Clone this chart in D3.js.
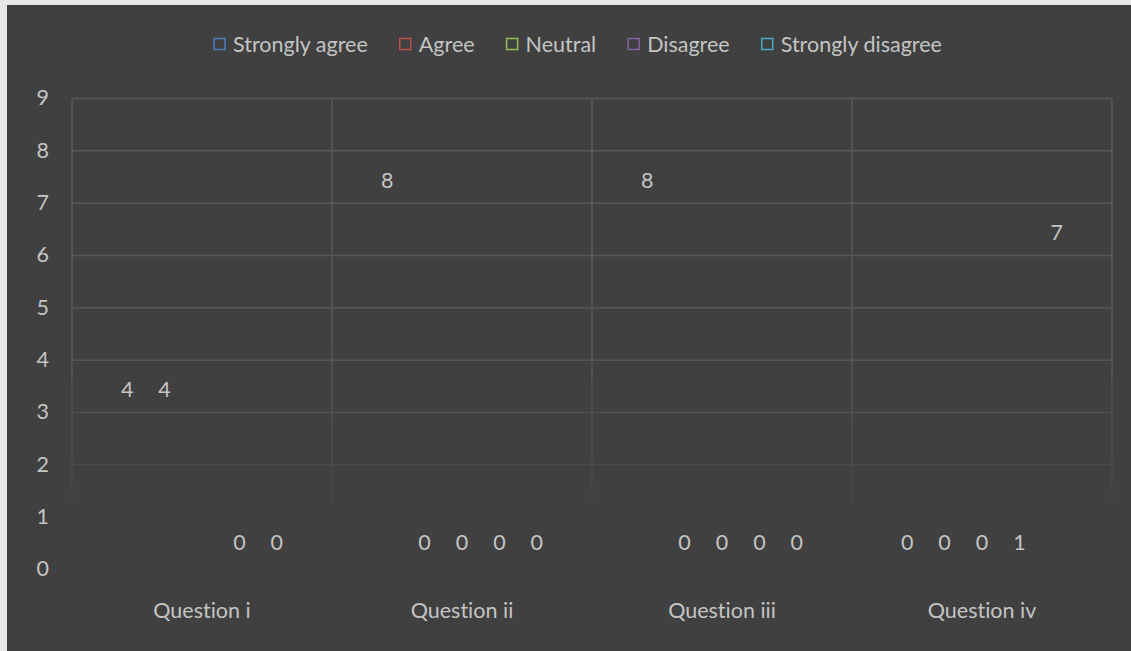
<!DOCTYPE html>
<html>
<head>
<meta charset="utf-8">
<script src="https://cdn.jsdelivr.net/npm/d3@7"></script>
<style>
  html, body { margin: 0; padding: 0; background: #e6e6e6; }
  svg { display: block; }
  text { font-family: Lato, "Open Sans", sans-serif; font-variant-ligatures: none; }
</style>
</head>
<body>
<svg id="chart" width="1131" height="651"></svg>
<script>
// ---- data ----
const categories = ["Question i", "Question ii", "Question iii", "Question iv"];
const seriesNames = ["Strongly agree", "Agree", "Neutral", "Disagree", "Strongly disagree"];
const seriesColors = ["#4a7fc1", "#c0504d", "#9bbb59", "#8064a2", "#4bacc6"];
const stronglyAgree    = [4, 8, 8, 0];
const agree            = [4, 0, 0, 0];
const neutral          = [null, 0, 0, 0];
const disagree         = [0, 0, 0, 1];
const stronglyDisagree = [0, 0, 0, 7];
const yTicks = [0, 1, 2, 3, 4, 5, 6, 7, 8, 9];

const seriesValues = [stronglyAgree, agree, neutral, disagree, stronglyDisagree];

const W = 1131, H = 651;
const svg = d3.select("#chart");
const FS = "21.5px";

// chart background with light frame on top/left
svg.append("rect").attr("x", 0).attr("y", 0).attr("width", W).attr("height", H).attr("fill", "#e8e8e8");
svg.append("rect").attr("x", 7).attr("y", 5).attr("width", W - 7).attr("height", H - 5).attr("fill", "#404040");

const plot = { left: 72, right: 1112, top: 98, bottom: 569 };

const y = d3.scaleLinear().domain([0, 9]).range([plot.bottom, plot.top]);
const x0 = d3.scaleBand().domain(categories).range([plot.left, plot.right]).padding(0);
const x1 = d3.scaleBand().domain(seriesNames).range([0, x0.bandwidth()]).paddingInner(0).paddingOuter(0.975);

const textColor = "#c4c4c4";

// fading gradient for gridlines
const defs = svg.append("defs");
const grad = defs.append("linearGradient").attr("id", "gridFade")
  .attr("gradientUnits", "userSpaceOnUse")
  .attr("x1", 0).attr("x2", 0).attr("y1", y(9)).attr("y2", y(0.9));
grad.append("stop").attr("offset", "0").attr("stop-color", "#5a5a5a");
grad.append("stop").attr("offset", "0.6").attr("stop-color", "#575757");
grad.append("stop").attr("offset", "0.85").attr("stop-color", "#4b4b4b");
grad.append("stop").attr("offset", "1").attr("stop-color", "#404040");

// horizontal gridlines (visible ones: 2..9)
const grid = svg.append("g");
grid.selectAll("line.h")
  .data(yTicks.filter(t => t >= 2))
  .join("line")
  .attr("class", "h")
  .attr("x1", plot.left).attr("x2", plot.right)
  .attr("y1", d => y(d) + 0.5).attr("y2", d => y(d) + 0.5)
  .attr("stroke", "url(#gridFade)")
  .attr("stroke-width", 1.5);

// vertical gridlines at category boundaries
const boundaries = categories.map(c => x0(c)).concat([plot.right]);
grid.selectAll("rect.v")
  .data(boundaries)
  .join("rect")
  .attr("class", "v")
  .attr("x", d => d - 0.75)
  .attr("width", 1.5)
  .attr("y", y(9))
  .attr("height", y(1.2) - y(9))
  .attr("fill", "url(#gridFade)");

// y axis tick labels
const yAxis = d3.axisLeft(y).tickValues(yTicks).tickSize(0).tickPadding(0);
const yg = svg.append("g").attr("transform", `translate(49,0)`).call(yAxis);
yg.select(".domain").remove();
yg.selectAll("text").attr("fill", textColor).style("font-size", FS).style("font-family", "Lato, 'Open Sans', sans-serif");

// x axis category labels
const xAxis = d3.axisBottom(x0).tickSize(0).tickPadding(0);
const xg = svg.append("g").attr("transform", `translate(0,603)`).call(xAxis);
xg.select(".domain").remove();
xg.selectAll("text").attr("fill", textColor).style("font-size", FS).style("font-family", "Lato, 'Open Sans', sans-serif");

// bars (transparent, as in reference) + data labels
const rows = [];
categories.forEach((c, ci) => {
  seriesNames.forEach((s, si) => {
    rows.push({ cat: c, series: s, value: seriesValues[si][ci] });
  });
});

const barsG = svg.append("g");
barsG.selectAll("rect")
  .data(rows.filter(d => d.value !== null))
  .join("rect")
  .attr("x", d => x0(d.cat) + x1(d.series))
  .attr("width", x1.bandwidth())
  .attr("y", d => y(d.value))
  .attr("height", d => y(0) - y(d.value))
  .attr("fill", "#404040")
  .attr("fill-opacity", 0);

const unit = y(0) - y(1);
barsG.selectAll("text")
  .data(rows.filter(d => d.value !== null))
  .join("text")
  .attr("x", d => x0(d.cat) + x1(d.series) + x1.bandwidth() / 2)
  .attr("y", d => Math.min(y(d.value) + unit * 0.57, y(0) - unit * 0.5))
  .attr("dy", "0.35em")
  .attr("text-anchor", "middle")
  .attr("fill", textColor)
  .style("font-size", FS)
  .text(d => d.value);

// legend
const legendItems = seriesNames.map((s, i) => ({ name: s, color: seriesColors[i] }));
const legend = svg.append("g").attr("transform", "translate(0,44)");
const itemG = legend.selectAll("g").data(legendItems).join("g");
itemG.append("rect")
  .attr("width", 11).attr("height", 11)
  .attr("y", -5.5)
  .attr("fill", "none")
  .attr("stroke", d => d.color)
  .attr("stroke-width", 1.5);
itemG.append("text")
  .attr("x", 19)
  .attr("dy", "0.35em")
  .attr("fill", textColor)
  .style("font-size", FS)
  .text(d => d.name);

// lay out legend items centered
const gap = 32;
let widths = [];
itemG.each(function() { widths.push(19 + this.querySelector("text").getComputedTextLength()); });
const total = d3.sum(widths) + gap * (widths.length - 1);
let cx = 578 - total / 2;
itemG.attr("transform", (d, i) => {
  const t = `translate(${cx},0)`;
  cx += widths[i] + gap;
  return t;
});
</script>
</body>
</html>
